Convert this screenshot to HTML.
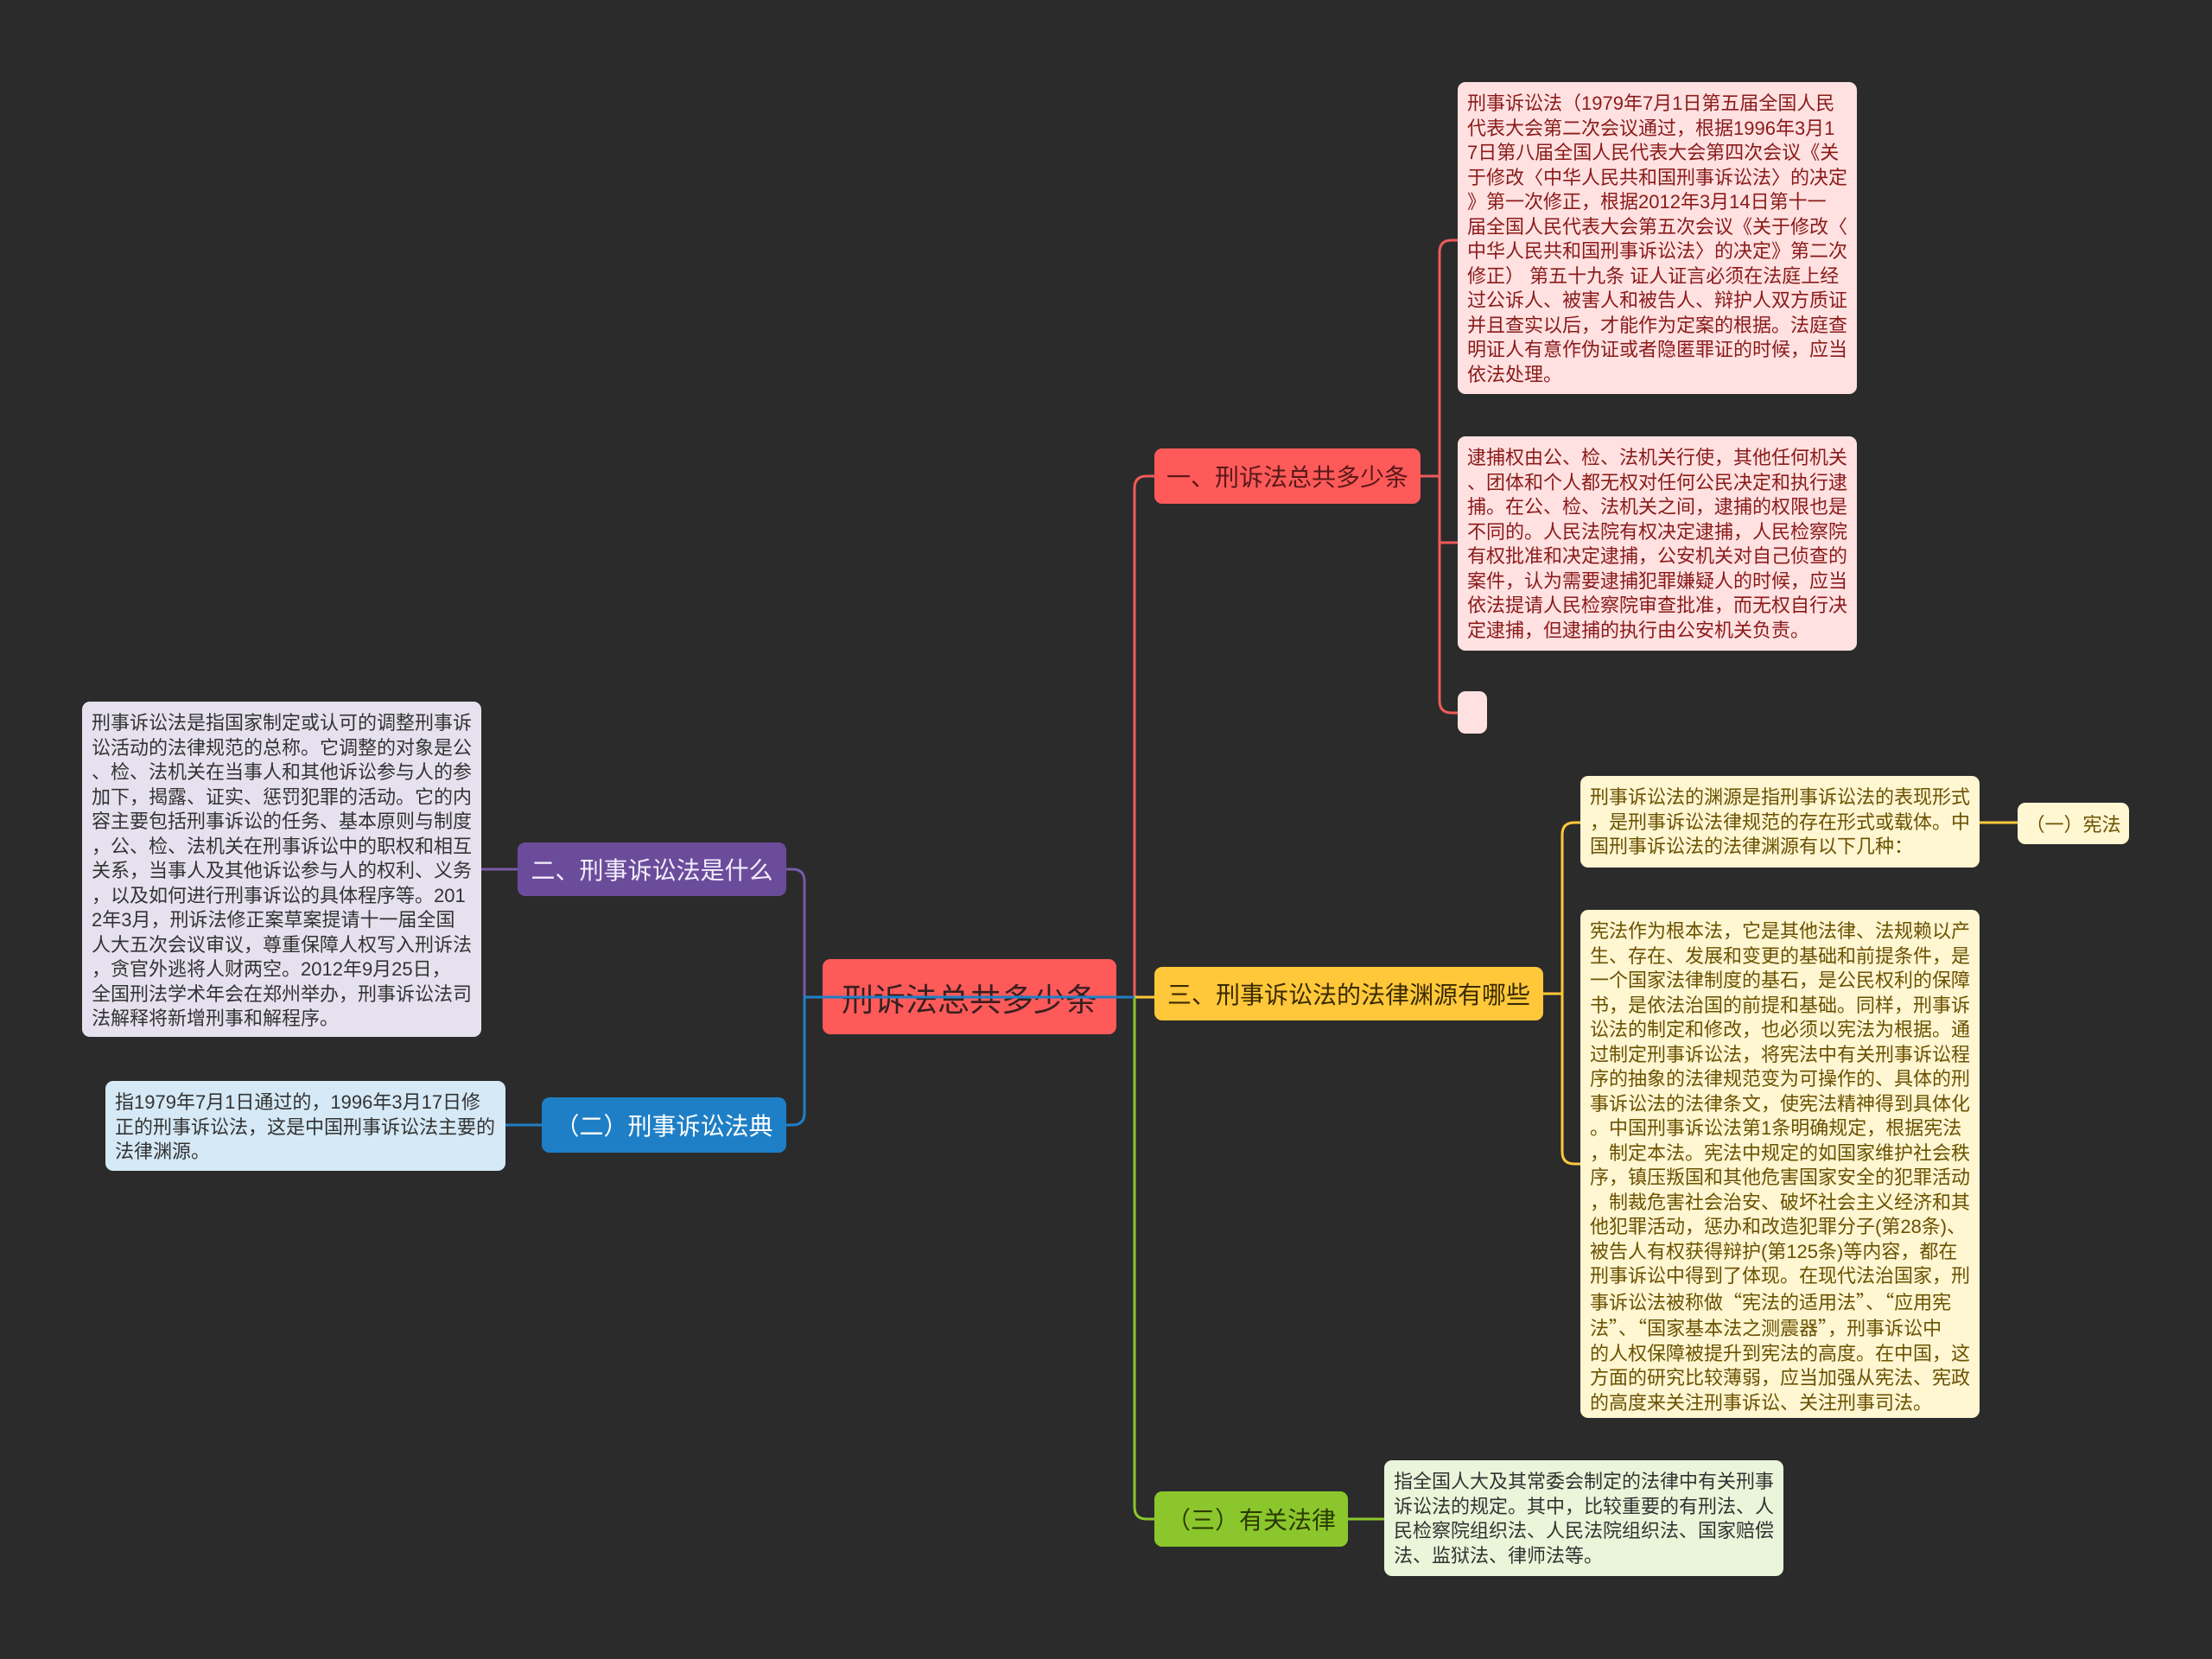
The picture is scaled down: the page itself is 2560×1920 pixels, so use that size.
<!DOCTYPE html>
<html><head><meta charset="utf-8"><style>
body{margin:0;width:2560px;height:1920px;background:#2b2b2b;position:relative;overflow:hidden;font-family:"Liberation Sans","Noto Sans CJK SC",sans-serif}
.b{position:absolute;box-sizing:border-box;border-radius:9px;white-space:nowrap}
.t{font-size:22px;line-height:28.5px;padding:11px 11px 9px}
.n{display:flex;align-items:center;justify-content:center}
.q{font-family:"Noto Sans CJK SC",sans-serif}
svg{position:absolute;left:0;top:0}
</style></head><body>
<svg width="2560" height="1920" style="z-index:0" fill="none" stroke-width="3">
<path d="M1292 1154 H1313 V565 Q1313 551 1327 551 H1336" stroke="#f05a5a"/>
<path d="M910 1006 H917 Q931 1006 931 1020 V1154" stroke="#7a5aa6"/>
<path d="M1292 1154 H1336" stroke="#ffc83a"/>
<path d="M1313 1154 V1744 Q1313 1758 1327 1758 H1336" stroke="#8bc72c"/>
<path d="M1644 551 H1666 M1687 278 H1680 Q1666 278 1666 292 V811 Q1666 825 1680 825 H1687 M1666 628 H1687" stroke="#f05a5a"/>
<path d="M1786 1150 H1808 M1829 952 H1822 Q1808 952 1808 966 V1333 Q1808 1347 1822 1347 H1829" stroke="#ffc83a"/>
<path d="M2291 952 H2335" stroke="#ffc83a"/>
<path d="M1560 1758 H1602" stroke="#8bc72c"/>
<path d="M599 1006 H557" stroke="#7a5aa6"/>
<path d="M627 1302 H585" stroke="#1f7fc6"/>
</svg>
<div class="b n" style="left:952px;top:1110px;width:340px;height:87px;background:#ff5a5a;color:#3a1f1f;font-size:37px;z-index:1">刑诉法总共多少条</div>
<svg width="2560" height="1920" style="z-index:2" fill="none" stroke-width="3"><path d="M910 1302 H917 Q931 1302 931 1288 V1154 H1313" stroke="#1f7fc6"/></svg>

<div class="b n" style="left:1336px;top:519px;width:308px;height:64px;background:#ff5a5a;color:#5a1818;font-size:28px">一、刑诉法总共多少条</div>
<div class="b t" style="left:1687px;top:95px;width:462px;height:361px;background:#ffe1e1;color:#8b1a1a">刑事诉讼法（1979年7月1日第五届全国人民<br>代表大会第二次会议通过，根据1996年3月1<br>7日第八届全国人民代表大会第四次会议《关<br>于修改〈中华人民共和国刑事诉讼法〉的决定<br>》第一次修正，根据2012年3月14日第十一<br>届全国人民代表大会第五次会议《关于修改〈<br>中华人民共和国刑事诉讼法〉的决定》第二次<br>修正） 第五十九条 证人证言必须在法庭上经<br>过公诉人、被害人和被告人、辩护人双方质证<br>并且查实以后，才能作为定案的根据。法庭查<br>明证人有意作伪证或者隐匿罪证的时候，应当<br>依法处理。</div>
<div class="b t" style="left:1687px;top:505px;width:462px;height:248px;background:#ffe1e1;color:#8b1a1a">逮捕权由公、检、法机关行使，其他任何机关<br>、团体和个人都无权对任何公民决定和执行逮<br>捕。在公、检、法机关之间，逮捕的权限也是<br>不同的。人民法院有权决定逮捕，人民检察院<br>有权批准和决定逮捕，公安机关对自己侦查的<br>案件，认为需要逮捕犯罪嫌疑人的时候，应当<br>依法提请人民检察院审查批准，而无权自行决<br>定逮捕，但逮捕的执行由公安机关负责。</div>
<div class="b" style="left:1687px;top:800px;width:34px;height:49px;background:#ffe1e1"></div>

<div class="b n" style="left:599px;top:975px;width:311px;height:62px;background:#6b4c9a;color:#f3eeff;font-size:28px">二、刑事诉讼法是什么</div>
<div class="b t" style="left:95px;top:812px;width:462px;height:388px;background:#e6e1ef;color:#333">刑事诉讼法是指国家制定或认可的调整刑事诉<br>讼活动的法律规范的总称。它调整的对象是公<br>、检、法机关在当事人和其他诉讼参与人的参<br>加下，揭露、证实、惩罚犯罪的活动。它的内<br>容主要包括刑事诉讼的任务、基本原则与制度<br>，公、检、法机关在刑事诉讼中的职权和相互<br>关系，当事人及其他诉讼参与人的权利、义务<br>，以及如何进行刑事诉讼的具体程序等。201<br>2年3月，刑诉法修正案草案提请十一届全国<br>人大五次会议审议，尊重保障人权写入刑诉法<br>，贪官外逃将人财两空。2012年9月25日，<br>全国刑法学术年会在郑州举办，刑事诉讼法司<br>法解释将新增刑事和解程序。</div>
<div class="b n" style="left:627px;top:1270px;width:283px;height:64px;background:#1f7fc6;color:#fff;font-size:28px">（二）刑事诉讼法典</div>
<div class="b t" style="left:122px;top:1251px;width:463px;height:104px;background:#d5e9f6;color:#333">指1979年7月1日通过的，1996年3月17日修<br>正的刑事诉讼法，这是中国刑事诉讼法主要的<br>法律渊源。</div>

<div class="b n" style="left:1336px;top:1119px;width:450px;height:62px;background:#ffc83a;color:#3a2a00;font-size:28px">三、刑事诉讼法的法律渊源有哪些</div>
<div class="b t" style="left:1829px;top:898px;width:462px;height:106px;background:#fff6d2;color:#6b5200">刑事诉讼法的渊源是指刑事诉讼法的表现形式<br>，是刑事诉讼法律规范的存在形式或载体。中<br>国刑事诉讼法的法律渊源有以下几种：</div>
<div class="b n" style="left:2335px;top:929px;width:129px;height:48px;background:#fff6d2;color:#6b5200;font-size:22px">（一）宪法</div>
<div class="b t" style="left:1829px;top:1053px;width:462px;height:588px;background:#fff6d2;color:#6b5200">宪法作为根本法，它是其他法律、法规赖以产<br>生、存在、发展和变更的基础和前提条件，是<br>一个国家法律制度的基石，是公民权利的保障<br>书，是依法治国的前提和基础。同样，刑事诉<br>讼法的制定和修改，也必须以宪法为根据。通<br>过制定刑事诉讼法，将宪法中有关刑事诉讼程<br>序的抽象的法律规范变为可操作的、具体的刑<br>事诉讼法的法律条文，使宪法精神得到具体化<br>。中国刑事诉讼法第1条明确规定，根据宪法<br>，制定本法。宪法中规定的如国家维护社会秩<br>序，镇压叛国和其他危害国家安全的犯罪活动<br>，制裁危害社会治安、破坏社会主义经济和其<br>他犯罪活动，惩办和改造犯罪分子(第28条)、<br>被告人有权获得辩护(第125条)等内容，都在<br>刑事诉讼中得到了体现。在现代法治国家，刑<br>事诉讼法被称做<span class="q">“</span>宪法的适用法<span class="q">”</span>、<span class="q">“</span>应用宪<br>法<span class="q">”</span>、<span class="q">“</span>国家基本法之测震器<span class="q">”</span>，刑事诉讼中<br>的人权保障被提升到宪法的高度。在中国，这<br>方面的研究比较薄弱，应当加强从宪法、宪政<br>的高度来关注刑事诉讼、关注刑事司法。</div>

<div class="b n" style="left:1336px;top:1726px;width:224px;height:64px;background:#8bc72c;color:#2a3a00;font-size:28px">（三）有关法律</div>
<div class="b t" style="left:1602px;top:1690px;width:462px;height:134px;background:#eaf5d9;color:#333">指全国人大及其常委会制定的法律中有关刑事<br>诉讼法的规定。其中，比较重要的有刑法、人<br>民检察院组织法、人民法院组织法、国家赔偿<br>法、监狱法、律师法等。</div>
</body></html>
